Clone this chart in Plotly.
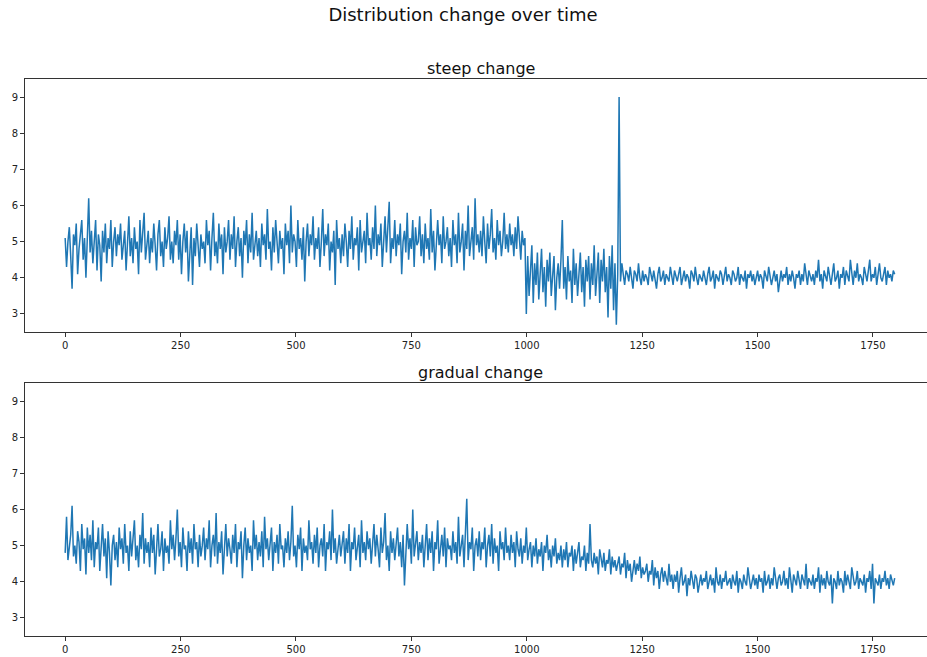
import plotly.graph_objects as go

# sample positions (every 3rd step of 0..1799)
steps = list(range(0, 1800, 3))

# series with an abrupt shift at ~1000 and an outlier at 1200
steep = [
    5.1, 4.3, 5.0, 5.4, 4.6, 3.7, 5.2, 4.9, 5.5, 4.1, 4.8, 5.3, 5.6, 4.5, 5.1, 4.0, 5.5, 6.2, 4.7, 5.3,
    4.4, 5.0, 5.6, 4.2, 5.2, 4.9, 3.9, 5.3, 4.7, 5.5, 4.4, 5.1, 4.8, 5.6, 4.3, 5.0, 5.4, 4.6, 5.2, 4.9,
    5.5, 4.5, 4.9, 5.3, 4.2, 5.0, 5.7, 4.6, 5.1, 4.4, 5.4, 4.8, 5.0, 4.1, 5.6, 4.7, 5.2, 5.8, 4.5, 4.9,
    5.3, 4.4, 5.1, 4.7, 5.5, 4.9, 4.2, 5.2, 5.6, 4.6, 5.0, 4.3, 5.4, 4.8, 5.1, 5.7, 4.5, 5.0, 4.4, 5.3,
    4.9, 5.6, 4.5, 5.2, 4.1, 5.0, 5.5, 4.7, 5.3, 3.9, 4.8, 5.4, 3.8, 5.1, 4.6, 5.5, 4.9, 4.3, 5.2, 4.8,
    5.0, 4.4, 5.6, 4.9, 5.3, 4.2, 5.1, 5.8, 4.6, 5.0, 4.4, 5.5, 4.8, 5.2, 4.1, 5.4, 4.7, 5.0, 5.6, 4.5,
    5.2, 4.8, 5.7, 4.3, 5.0, 5.4, 4.6, 5.1, 4.0, 5.3, 4.9, 5.6, 4.4, 5.2, 4.7, 5.8, 4.5, 5.0, 5.3, 4.6,
    5.1, 4.3, 5.5, 4.9, 5.2, 4.5, 5.9, 4.8, 5.0, 4.2, 5.4, 4.7, 5.6, 5.0, 4.4, 5.3, 4.8, 5.1, 4.1, 5.5,
    4.9, 5.3, 4.4, 6.0, 4.7, 5.2, 5.0, 4.3, 5.6, 4.8, 5.1, 4.5, 5.4, 3.9, 5.0, 5.5, 4.6, 5.2, 4.9, 5.7,
    4.5, 5.1, 4.8, 5.4, 4.3, 5.0, 5.9, 4.6, 5.2, 4.9, 5.5, 4.2, 5.0, 4.7, 5.3, 3.8, 5.6, 4.8, 5.1, 4.4,
    5.2, 4.6, 5.5, 5.0, 4.3, 5.3, 4.8, 5.7, 4.5, 5.1, 4.9, 5.4, 4.2, 5.6, 4.7, 5.0, 5.3, 4.4, 5.8, 4.9,
    5.1, 4.5, 5.4, 4.8, 6.0, 4.6, 5.2, 4.9, 5.5, 4.3, 5.0, 5.7, 4.7, 5.3, 6.1, 4.4, 5.1, 4.8, 5.6, 4.6,
    5.2, 4.9, 5.5, 4.1, 5.0, 5.3, 4.7, 5.8, 4.5, 5.1, 4.8, 5.6, 4.3, 5.4, 4.9, 5.0, 5.7, 4.6, 5.2, 4.4,
    5.5, 4.8, 5.1, 4.5, 5.9, 4.7, 5.3, 4.2, 5.0, 5.6, 4.9, 5.2, 4.4, 5.7, 4.8, 5.0, 5.4, 4.6, 5.1, 4.3,
    5.6, 4.9, 5.2, 4.4, 5.8, 4.7, 5.0, 5.5, 4.2, 5.3, 4.8, 6.0, 4.6, 5.1, 5.4, 4.5, 6.2, 4.9, 5.2, 4.7,
    5.3, 4.6, 5.7, 5.0, 4.4, 5.5, 4.8, 5.2, 5.9, 4.7, 5.1, 4.5, 5.6, 4.9, 5.3, 4.6, 5.0, 5.8, 4.8, 5.2,
    4.7, 5.5, 4.9, 5.2, 4.6, 5.4, 4.8, 5.7, 5.0, 4.5, 5.3, 4.9, 5.1, 3.0, 4.6, 3.5, 4.2, 4.9, 3.3, 4.4,
    3.8, 4.7, 3.4, 4.1, 4.8, 3.6, 4.3, 3.2, 4.5, 3.9, 4.7, 3.5, 4.2, 4.6, 3.1, 4.0, 4.4, 3.7, 4.5, 5.6,
    3.7, 4.3, 3.4, 4.6, 3.9, 4.2, 3.3, 4.8, 3.8, 4.4, 3.5, 4.1, 4.7, 3.6, 4.3, 3.2, 4.5, 3.9, 4.6, 3.4,
    4.4, 3.8, 4.9, 3.5, 4.2, 4.7, 3.3, 4.5, 3.9, 4.8, 3.6, 4.3, 2.9, 4.6, 3.7, 4.9, 3.1, 4.4, 2.7, 4.1,
    9.0, 3.9, 4.4, 4.0, 3.8, 4.2, 4.1, 3.9, 4.3, 4.0, 3.7, 4.2, 4.1, 3.9, 4.4, 4.0, 3.8, 4.2, 3.9, 4.1,
    4.0, 3.8, 4.3, 4.1, 3.9, 4.2, 4.0, 3.7, 4.1, 4.3, 3.9, 4.0, 4.2, 3.8, 4.1, 4.0, 3.9, 4.3, 4.0, 3.8,
    4.2, 4.0, 3.9, 4.1, 4.3, 3.8, 4.0, 4.2, 3.9, 4.1, 4.0, 3.7, 4.2, 4.1, 3.9, 4.3, 4.0, 3.8, 4.1, 4.0,
    3.9, 4.2, 4.0, 3.8, 4.1, 4.3, 3.9, 4.0, 4.2, 3.7, 4.1, 4.0, 3.9, 4.2, 4.1, 3.8, 4.0, 4.3, 3.9, 4.1,
    4.0, 3.8, 4.2, 4.1, 3.9, 4.0, 4.3, 3.8, 4.1, 4.0, 3.9, 4.2, 3.7, 4.1, 4.0, 4.2, 3.9, 4.1, 3.8, 4.0,
    4.2, 3.9, 4.1, 4.0, 3.7, 4.2, 4.0, 3.9, 4.3, 4.1, 3.8, 4.0, 4.2, 3.9, 4.1, 3.6, 4.0, 4.2, 3.9, 4.1,
    4.0, 4.3, 3.8, 4.1, 3.9, 4.2, 4.0, 3.7, 4.1, 4.0, 4.2, 3.8, 4.1, 3.9, 4.4, 4.0, 3.8, 4.2, 4.0, 3.9,
    4.1, 3.8, 4.2, 4.0, 4.5, 3.9, 4.1, 3.7, 4.2, 4.0, 3.9, 4.3, 4.0, 3.8, 4.1, 4.4, 3.9, 4.0, 4.2, 3.7,
    4.1, 4.0, 4.3, 3.8, 4.2, 4.0, 3.9, 4.5, 4.1, 3.8, 4.2, 4.0, 4.4, 3.9, 4.1, 4.0, 3.8, 4.3, 4.1, 3.9,
    4.2, 4.5, 3.9, 4.1, 4.0, 4.3, 3.8, 4.2, 4.4, 4.0, 3.9, 4.1, 4.3, 3.8, 4.2, 4.0, 4.1, 3.9, 4.2, 4.1,
]

# series drifting slowly from ~5 down to ~4
gradual = [
    4.8, 5.8, 4.6, 4.9, 5.3, 6.1, 4.7, 5.0, 4.5, 5.4, 5.1, 4.3, 5.6, 4.9, 5.2, 4.2, 5.5, 4.8, 5.3, 4.6,
    5.7, 4.4, 5.1, 4.9, 5.5, 4.3, 5.0, 5.6, 4.7, 5.2, 4.1, 5.4, 4.8, 3.9, 5.0, 5.3, 4.6, 5.1, 4.4, 5.5,
    4.9, 5.2, 4.5, 5.6, 4.8, 5.0, 4.3, 5.4, 4.7, 5.1, 5.7, 4.6, 5.0, 4.4, 5.3, 4.9, 5.9, 4.5, 5.2, 4.8,
    5.1, 4.4, 5.5, 4.8, 5.3, 4.2, 5.0, 5.6, 4.7, 4.9, 5.4, 4.3, 5.2, 4.8, 5.0, 4.5, 5.7, 4.9, 5.3, 4.6,
    5.2, 6.0, 4.7, 5.1, 4.4, 5.5, 4.9, 5.0, 4.3, 5.4, 4.8, 5.2, 4.5, 5.6, 4.9, 5.1, 4.4, 5.3, 4.7, 5.0,
    5.5, 4.6, 5.2, 4.9, 5.7, 4.4, 5.0, 5.3, 4.7, 5.9, 4.5, 5.1, 4.8, 5.4, 4.2, 5.0, 5.6, 4.7, 5.2, 4.9,
    4.5, 5.3, 4.8, 5.6, 4.4, 5.1, 4.9, 5.4, 4.1, 5.0, 5.5, 4.6, 5.2, 4.8, 5.0, 4.3, 5.7, 4.9, 5.3, 4.6,
    5.1, 4.7, 5.4, 4.4, 5.8, 4.9, 5.2, 4.6, 5.0, 5.5, 4.3, 5.1, 4.8, 5.3, 4.5, 5.6, 4.9, 5.0, 4.4, 5.2,
    4.8, 5.4, 4.6, 5.1, 6.1, 4.7, 5.0, 4.4, 5.3, 4.9, 5.5, 4.3, 5.2, 4.8, 5.0, 4.6, 5.7, 4.9, 5.1, 4.5,
    5.3, 4.8, 5.5, 4.4, 5.0, 5.2, 4.7, 5.6, 4.3, 5.1, 4.9, 5.4, 4.6, 6.0, 4.8, 5.2, 4.5, 5.0, 5.3, 4.7,
    5.0, 5.4, 4.5, 5.2, 4.8, 5.6, 4.3, 5.1, 4.9, 5.5, 4.6, 5.0, 5.3, 4.4, 5.7, 4.8, 5.1, 4.6, 5.4, 4.9,
    5.2, 4.5, 5.0, 5.6, 4.7, 5.3, 4.9, 4.4, 5.5, 4.8, 5.1, 5.9, 4.6, 5.0, 4.3, 5.4, 4.8, 5.2, 4.6, 5.0,
    5.5, 4.7, 5.1, 4.4, 5.3, 3.9, 4.8, 5.6, 4.9, 5.2, 4.5, 6.0, 4.7, 5.0, 5.4, 4.6, 5.1, 4.8, 5.3, 4.4,
    5.0, 5.6, 4.6, 5.2, 4.8, 5.4, 4.3, 5.1, 4.9, 5.7, 4.5, 5.0, 5.3, 4.7, 5.5, 4.4, 5.2, 4.9, 5.0, 4.6,
    5.4, 4.8, 5.1, 4.5, 5.8, 4.7, 5.0, 5.3, 4.4, 5.2, 6.3, 4.6, 5.1, 4.9, 5.5, 4.3, 5.0, 5.2, 4.7, 5.4,
    4.6, 5.1, 4.9, 5.5, 4.4, 5.0, 5.3, 4.7, 5.6, 4.5, 5.2, 4.8, 5.0, 4.3, 5.4, 4.9, 5.1, 4.6, 5.5, 4.8,
    5.0, 4.6, 5.3, 4.8, 5.1, 4.4, 5.4, 4.9, 4.7, 5.2, 4.5, 5.0, 4.8, 5.5, 4.6, 4.9, 5.1, 4.4, 5.0, 4.7,
    5.2, 4.5, 4.9, 4.7, 5.1, 4.3, 5.0, 4.8, 5.3, 4.6, 4.9, 4.4, 5.0, 4.7, 5.2, 4.5, 4.8, 4.6, 5.0, 4.4,
    4.9, 4.6, 5.1, 4.4, 4.8, 4.7, 5.0, 4.3, 4.9, 4.5, 4.8, 5.1, 4.4, 4.7, 4.6, 5.0, 4.3, 4.8, 4.5, 5.6,
    4.6, 4.4, 4.8, 4.5, 4.7, 4.2, 4.9, 4.6, 4.4, 4.8, 4.3, 4.6, 4.5, 4.9, 4.2, 4.7, 4.4, 4.6, 4.3, 4.5,
    4.7, 4.2, 4.5, 4.4, 4.8, 4.1, 4.6, 4.3, 4.5, 4.0, 4.4, 4.6, 4.2, 4.5, 4.3, 4.7, 4.1, 4.4, 4.2, 4.3,
    4.5, 4.0, 4.3, 4.2, 4.6, 3.9, 4.4, 4.1, 4.3, 3.8, 4.2, 4.4, 4.0, 4.3, 4.1, 3.9, 4.5, 4.0, 4.2, 3.8,
    4.2, 4.0, 4.3, 3.7, 4.1, 4.4, 3.9, 4.0, 4.2, 3.6, 4.1, 3.9, 4.3, 4.0, 3.8, 4.2, 4.1, 3.7, 4.0, 4.2,
    3.9, 4.1, 4.0, 4.3, 3.8, 4.0, 4.2, 3.9, 4.1, 3.7, 4.4, 4.0, 3.9, 4.2, 3.8, 4.1, 4.0, 4.3, 3.9, 4.0,
    4.1, 3.8, 4.2, 4.0, 3.9, 4.3, 3.7, 4.1, 4.0, 3.8, 4.2, 4.0, 3.9, 4.4, 4.1, 3.8, 4.0, 4.2, 3.9, 4.1,
    3.8, 4.2, 4.0, 4.1, 3.7, 4.3, 3.9, 4.0, 4.2, 3.8, 4.1, 3.9, 4.4, 4.0, 3.8, 4.1, 4.2, 3.9, 4.0, 4.3,
    3.9, 4.1, 3.8, 4.4, 4.0, 3.7, 4.2, 4.0, 3.9, 4.3, 4.1, 3.8, 4.2, 4.0, 3.9, 4.5, 3.8, 4.1, 4.0, 3.9,
    4.2, 3.8, 4.1, 4.0, 4.4, 3.7, 4.2, 3.9, 4.1, 3.8, 4.3, 4.0, 3.9, 4.2, 3.4, 4.1, 4.0, 3.8, 4.3, 3.9,
    4.1, 4.0, 3.7, 4.3, 3.9, 4.2, 4.0, 3.8, 4.4, 4.1, 3.9, 4.0, 4.3, 3.8, 4.1, 4.0, 3.9, 4.2, 3.7, 4.1,
    4.0, 4.3, 3.8, 4.5, 3.4, 4.1, 4.0, 3.9, 4.2, 3.8, 4.1, 4.0, 4.3, 3.9, 4.1, 3.8, 4.2, 4.0, 3.9, 4.1,
]

x_ticks = [0, 250, 500, 750, 1000, 1250, 1500, 1750]
y_ticks = [3, 4, 5, 6, 7, 8, 9]

W, H = 927, 657
ML, MR, MT, MB = 25, 0, 79, 21
plot_h = H - MT - MB
top_dom = [(H - MB - 332) / plot_h, 1.0]
bot_dom = [0.0, (H - MB - 383) / plot_h]

LINE = "#1f77b4"
FONT = "DejaVu Sans"

fig = go.Figure()
fig.add_trace(go.Scatter(x=steps, y=steep, mode="lines", xaxis="x", yaxis="y",
                         line=dict(color=LINE, width=1.5), showlegend=False))
fig.add_trace(go.Scatter(x=steps, y=gradual, mode="lines", xaxis="x2", yaxis="y2",
                         line=dict(color=LINE, width=1.5), showlegend=False))

xcommon = dict(range=[-87, 1867], tickvals=x_ticks, ticks="outside", ticklen=4,
               tickcolor="#333", showline=True, linecolor="#333", linewidth=1, mirror=True,
               showgrid=False, zeroline=False, tickfont=dict(size=10, color="#222", family=FONT))
ycommon = dict(range=[2.5, 9.5], tickvals=y_ticks, ticks="outside", ticklen=4,
               tickcolor="#333", showline=True, linecolor="#333", linewidth=1,
               showgrid=False, zeroline=False, tickfont=dict(size=10, color="#222", family=FONT))

fig.update_layout(
    width=W, height=H,
    margin=dict(l=ML, r=MR, t=MT, b=MB),
    paper_bgcolor="white", plot_bgcolor="white",
    font=dict(family=FONT, color="#111"),
    xaxis=dict(domain=[0, 1], anchor="y", **xcommon),
    yaxis=dict(domain=top_dom, anchor="x", **ycommon),
    xaxis2=dict(domain=[0, 1], anchor="y2", **xcommon),
    yaxis2=dict(domain=bot_dom, anchor="x2", **ycommon),
    title=dict(text="Distribution change over time", x=463 / W, xanchor="center",
               y=1 - 15 / H, yanchor="middle", yref="container",
               font=dict(size=18, family=FONT, color="#111")),
)

title_x = (481 - ML) / (W - ML - MR)
fig.add_annotation(text="steep change", x=title_x, xref="paper", xanchor="center",
                   y=top_dom[1], yref="paper", yanchor="bottom", yshift=-1, showarrow=False,
                   font=dict(size=16, family=FONT, color="#111"))
fig.add_annotation(text="gradual change", x=title_x, xref="paper", xanchor="center",
                   y=bot_dom[1], yref="paper", yanchor="bottom", yshift=-1, showarrow=False,
                   font=dict(size=16, family=FONT, color="#111"))

fig.write_html("out.html")
